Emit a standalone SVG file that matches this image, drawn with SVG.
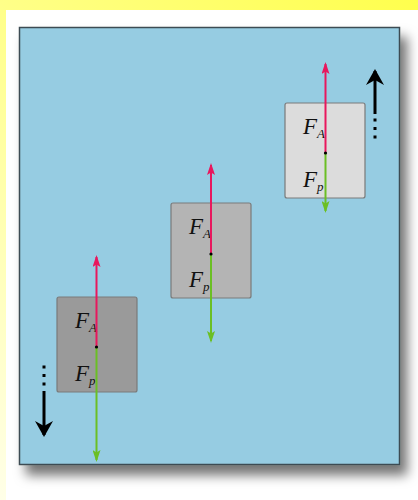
<svg xmlns="http://www.w3.org/2000/svg" width="418" height="500" viewBox="0 0 418 500">
<defs>
<linearGradient id="bg" x1="1" y1="0" x2="0" y2="1">
<stop offset="0" stop-color="#ffff4d"/>
<stop offset="0.5" stop-color="#ffff88"/>
<stop offset="1" stop-color="#ffffe8"/>
</linearGradient>
<filter id="sh" x="-10%" y="-10%" width="130%" height="130%">
<feDropShadow dx="7" dy="10" stdDeviation="6" flood-color="#000" flood-opacity="0.55"/>
</filter>
<marker id="hr" viewBox="0 0 12 8" refX="10" refY="4" markerWidth="12" markerHeight="8" markerUnits="userSpaceOnUse" orient="auto">
<path d="M12,4 L0,0 L2.5,4 L0,8 Z" fill="#e8175d"/>
</marker>
<marker id="hg" viewBox="0 0 12 8" refX="10" refY="4" markerWidth="12" markerHeight="8" markerUnits="userSpaceOnUse" orient="auto">
<path d="M12,4 L0,0 L2.5,4 L0,8 Z" fill="#6bbf24"/>
</marker>
<marker id="hb" viewBox="0 0 16 18" refX="14" refY="9" markerWidth="16" markerHeight="18" markerUnits="userSpaceOnUse" orient="auto">
<path d="M16,9 L0,0 L5,9 L0,18 Z" fill="#000"/>
</marker>
</defs>
<style>
.box{stroke:#7a7a7a;stroke-width:1.2}
.red{stroke:#e8175d;stroke-width:2;fill:none}
.grn{stroke:#6bbf24;stroke-width:2;fill:none}
.blk{stroke:#000;stroke-width:3;fill:none}
.dots{stroke:#000;stroke-width:3;stroke-dasharray:3 5.5;fill:none}
.f{font-family:"Liberation Serif","DejaVu Serif",serif;font-style:italic;font-size:23px;fill:#111}
.s{font-size:13px}
</style>
<rect x="0" y="0" width="418" height="500" fill="url(#bg)"/>
<rect x="6" y="10" width="420" height="500" fill="#ffffff"/>
<rect x="19.5" y="27.5" width="380" height="437" fill="#96cce2" stroke="#3e4c52" stroke-width="1.5" filter="url(#sh)"/>
<g id="box1">
<rect class="box" x="57" y="297" width="80" height="95" rx="2" fill="#9a9a9a"/>
<text class="f" x="75" y="328">F<tspan class="s" dy="4">A</tspan></text>
<text class="f" x="75" y="381">F<tspan class="s" dy="4">p</tspan></text>
</g>
<g id="box2">
<rect class="box" x="171" y="203" width="80" height="95" rx="2" fill="#b4b4b4"/>
<text class="f" x="189" y="234">F<tspan class="s" dy="4">A</tspan></text>
<text class="f" x="189" y="287">F<tspan class="s" dy="4">p</tspan></text>
</g>
<g id="box3">
<rect class="box" x="285" y="103" width="80" height="95" rx="2" fill="#dcdcdc"/>
<text class="f" x="303" y="134">F<tspan class="s" dy="4">A</tspan></text>
<text class="f" x="303" y="187">F<tspan class="s" dy="4">p</tspan></text>
</g>
<g id="connectors">
<line class="red" x1="96.5" y1="347" x2="96.5" y2="257" marker-end="url(#hr)"/>
<line class="grn" x1="96.5" y1="347" x2="96.5" y2="460" marker-end="url(#hg)"/>
<circle cx="96.5" cy="347" r="1.6" fill="#000"/>
<line class="red" x1="211" y1="254" x2="211" y2="165" marker-end="url(#hr)"/>
<line class="grn" x1="211" y1="254" x2="211" y2="341" marker-end="url(#hg)"/>
<circle cx="211" cy="254" r="1.6" fill="#000"/>
<line class="red" x1="325.5" y1="153" x2="325.5" y2="64" marker-end="url(#hr)"/>
<line class="grn" x1="325.5" y1="153" x2="325.5" y2="211" marker-end="url(#hg)"/>
<circle cx="325.5" cy="153" r="1.6" fill="#000"/>
<line class="blk" x1="375" y1="114" x2="375" y2="71" marker-end="url(#hb)"/>
<line class="dots" x1="375" y1="118.5" x2="375" y2="140"/>
<line class="blk" x1="44" y1="391" x2="44" y2="435" marker-end="url(#hb)"/>
<line class="dots" x1="44" y1="365.5" x2="44" y2="387"/>
</g>
</svg>
